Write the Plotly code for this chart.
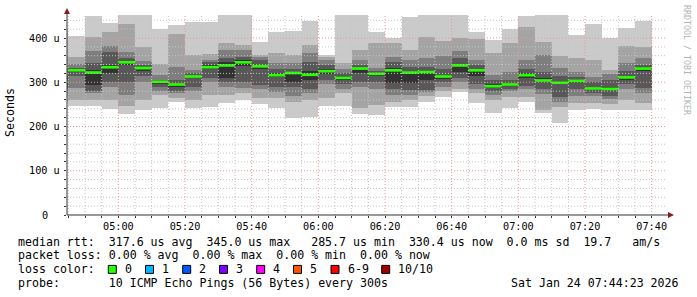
import plotly.graph_objects as go
import pandas as pd

# ---------------- data ----------------
DAY = "2026-01-24"
bar_ends = pd.date_range(f"{DAY} 04:45", f"{DAY} 07:40", freq="5min")  # each bar covers the 5 min before
STEP = pd.Timedelta(minutes=5)

# 10 pings per step, sorted: ping10 = slowest ... ping1 = fastest (microseconds)
ping10 = [420, 405, 450, 434, 455, 455, 420, 429, 436, 436, 455, 455, 391, 414, 416, 438, 362, 455,
          455, 414, 400, 448, 455, 455, 455, 414, 396, 420, 450, 455, 455, 407, 432, 400, 423, 438]
ping9 = [360, 357, 402, 414, 432, 380, 341, 409, 362, 364, 389, 384, 362, 366, 362, 384, 357, 343,
         373, 389, 389, 373, 402, 393, 400, 397, 366, 389, 424, 391, 359, 355, 350, 328, 382, 380]
ping8 = [330, 341, 371, 382, 368, 348, 316, 335, 328, 350, 373, 373, 356, 343, 343, 366, 350, 330,
         350, 332, 357, 350, 355, 359, 370, 350, 316, 323, 350, 362, 332, 323, 312, 318, 343, 355]
ping7 = [315, 332, 343, 368, 355, 340, 306, 305, 320, 345, 355, 358, 350, 330, 330, 345, 340, 322,
         340, 325, 346, 335, 335, 330, 355, 340, 305, 305, 330, 323, 315, 312, 300, 305, 325, 340]
ping6 = [305, 328, 328, 339, 347, 335, 302, 298, 315, 338, 345, 350, 340, 320, 324, 325, 330, 314,
         333, 321, 332, 326, 326, 317, 342, 330, 295, 298, 320, 310, 303, 306, 290, 290, 315, 335]
ping5 = [297, 323, 294, 320, 340, 326, 297, 290, 310, 330, 310, 336, 330, 312, 301, 305, 318, 305,
         320, 315, 298, 298, 305, 308, 323, 315, 287, 292, 310, 300, 295, 298, 282, 282, 306, 325]
ping4 = [290, 314, 280, 301, 301, 315, 289, 280, 289, 310, 300, 300, 294, 290, 290, 285, 305, 295,
         300, 300, 285, 282, 283, 300, 310, 295, 280, 285, 292, 285, 267, 285, 276, 270, 295, 287]
ping3 = [280, 287, 276, 289, 271, 301, 280, 275, 280, 300, 290, 287, 285, 278, 270, 275, 295, 285,
         290, 285, 271, 272, 278, 290, 300, 285, 272, 280, 285, 273, 255, 270, 270, 262, 285, 275]
ping2 = [270, 260, 260, 260, 246, 260, 271, 265, 260, 271, 271, 275, 265, 265, 255, 260, 264, 275,
         242, 249, 255, 260, 268, 280, 285, 275, 260, 267, 267, 237, 244, 253, 254, 252, 260, 253]
ping1 = [255, 246, 246, 240, 228, 237, 242, 255, 242, 244, 253, 260, 250, 242, 219, 222, 246, 246,
         228, 226, 244, 244, 255, 266, 278, 253, 231, 242, 255, 230, 208, 237, 240, 237, 237, 237]
median_rtt = [301, 327, 322, 334, 345, 332, 301, 295, 313, 334, 338, 345, 336, 316, 321, 317, 325, 310,
              331, 319, 327, 322, 323, 313, 338, 327, 291, 295, 316, 304, 299, 303, 286, 285, 311, 331]

y_tick_vals = [0, 100, 200, 300, 400]
y_tick_text = ["0", "100 u", "200 u", "300 u", "400 u"]

loss_labels = ["0", "1", "2", "3", "4", "5", "6-9", "10/10"]
loss_colors = ["#26ff00", "#00b8ff", "#0059ff", "#7e00ff", "#ff00ff", "#ff5500", "#ff0000", "#a00000"]

legend_rtt = "median rtt:  317.6 us avg  345.0 us max   285.7 us min  330.4 us now  0.0 ms sd  19.7   am/s"
legend_loss = "packet loss: 0.00 % avg  0.00 % max  0.00 % min  0.00 % now"
legend_color = "loss color:"
legend_probe = "probe:       10 ICMP Echo Pings (56 Bytes) every 300s"
stamp = "Sat Jan 24 07:44:23 2026"
y_title = "Seconds"
watermark = "RRDTOOL / TOBI OETIKER"

# ---------------- style / layout ----------------
W, H = 697, 297
PL, PR, PT, PB = 67, 667, 15, 215
Y_MAX = 452
X0 = pd.Timestamp(f"{DAY} 04:44:36")
X1 = pd.Timestamp(f"{DAY} 07:44:36")
MONO = "DejaVu Sans Mono"
F_LEG = 11.6
F_AX = 10.2
SMOKE = ["#cacaca", "#a4a4a4", "#7e7e7e", "#585858", "#323232"]


def pxx(x):
    return (x - PL) / (PR - PL)


def pxy(y):
    return (PB - y) / (PB - PT)


def nb(s):
    return s.replace(" ", "\u00a0")


fig = go.Figure()

centers = bar_ends - STEP / 2
width_ms = STEP.total_seconds() * 1000
highs = [ping10, ping9, ping8, ping7, ping6]
lows = [ping1, ping2, ping3, ping4, ping5]
for color, hi, lo in zip(SMOKE, highs, lows):
    fig.add_trace(go.Bar(
        x=centers, y=[h - l for h, l in zip(hi, lo)], base=lo, width=width_ms,
        marker=dict(color=color, line=dict(width=0)), hoverinfo="skip"))

# median line: one horizontal segment per step
mx, my = [], []
for end, m in zip(bar_ends, median_rtt):
    mx += [end - STEP, end, None]
    my += [m, m, None]
fig.add_trace(go.Scatter(x=mx, y=my, mode="lines",
                         line=dict(color=loss_colors[0], width=2.7), hoverinfo="skip"))

shapes = []
# grid drawn above the smoke (as rrdtool does)
for v in range(20, Y_MAX, 20):
    major = v % 100 == 0
    shapes.append(dict(type="line", xref="paper", yref="y", x0=0, x1=1, y0=v, y1=v,
                       line=dict(color="#e69a9a" if major else "#c4c4c4", width=1, dash="1px,2px"),
                       layer="above"))
t = pd.Timestamp(f"{DAY} 04:45")
while t <= X1:
    major = (t.minute % 20 == 0)
    shapes.append(dict(type="line", xref="x", yref="paper", x0=t, x1=t, y0=0, y1=1,
                       line=dict(color="#e69a9a" if major else "#c4c4c4", width=1, dash="1px,2px"),
                       layer="above"))
    t += STEP

AX = "#333333"
ARROW = "#8b1a1a"
shapes += [
    dict(type="line", xref="paper", yref="paper", x0=pxx(PL), x1=pxx(671), y0=0, y1=0,
         line=dict(color=AX, width=1), layer="above"),
    dict(type="line", xref="paper", yref="paper", x0=0, x1=0, y0=0, y1=pxy(10),
         line=dict(color=AX, width=1), layer="above"),
    dict(type="path", xref="paper", yref="paper",
         path=f"M {pxx(668)},{pxy(212)} L {pxx(674)},{pxy(215)} L {pxx(668)},{pxy(218)} Z",
         fillcolor=ARROW, line=dict(width=0), layer="above"),
    dict(type="path", xref="paper", yref="paper",
         path=f"M {pxx(64)},{pxy(14)} L {pxx(67)},{pxy(8)} L {pxx(70)},{pxy(14)} Z",
         fillcolor=ARROW, line=dict(width=0), layer="above"),
]

annotations = []
for v, txt in zip(y_tick_vals, y_tick_text):
    annotations.append(dict(x=pxx(44.5), y=v, xref="paper", yref="y", text=nb(txt), showarrow=False,
                            xanchor="center", yanchor="middle", font=dict(family=MONO, size=F_AX, color="#000")))

annotations.append(dict(x=pxx(10), y=pxy(113), xref="paper", yref="paper", text=y_title, textangle=-90,
                        showarrow=False, xanchor="center", yanchor="middle",
                        font=dict(family=MONO, size=F_LEG, color="#000")))
annotations.append(dict(x=pxx(687), y=pxy(60), xref="paper", yref="paper", text=nb(watermark), textangle=90,
                        showarrow=False, xanchor="center", yanchor="middle",
                        font=dict(family=MONO, size=8.3, color="#b4b4b4")))

line_y = [241.7, 255.2, 269.4, 283.4]
for yy, txt in zip([line_y[0], line_y[1], line_y[3]], [legend_rtt, legend_loss, legend_probe]):
    annotations.append(dict(x=pxx(16), y=pxy(yy), xref="paper", yref="paper", text=nb(txt), showarrow=False,
                            xanchor="left", yanchor="middle", font=dict(family=MONO, size=F_LEG, color="#000")))
annotations.append(dict(x=pxx(16), y=pxy(line_y[2]), xref="paper", yref="paper", text=nb(legend_color),
                        showarrow=False, xanchor="left", yanchor="middle",
                        font=dict(family=MONO, size=F_LEG, color="#000")))
annotations.append(dict(x=pxx(681), y=pxy(line_y[3]), xref="paper", yref="paper", text=nb(stamp),
                        showarrow=False, xanchor="right", yanchor="middle",
                        font=dict(family=MONO, size=F_LEG, color="#000")))

sq_x = [108.3, 145.5, 182.7, 219.5, 256.7, 293.5, 331.0, 381.7]
for sx, lab, col in zip(sq_x, loss_labels, loss_colors):
    shapes.append(dict(type="rect", xref="paper", yref="paper", x0=pxx(sx), x1=pxx(sx + 8),
                       y0=pxy(line_y[2] + 4), y1=pxy(line_y[2] - 4), fillcolor=col,
                       line=dict(color="#000", width=1), layer="above"))
    annotations.append(dict(x=pxx(sx + 14.5), y=pxy(line_y[2]), xref="paper", yref="paper", text=nb(lab),
                            showarrow=False, xanchor="left", yanchor="middle",
                            font=dict(family=MONO, size=F_LEG, color="#000")))

fig.update_layout(
    width=W, height=H, margin=dict(l=PL, r=W - PR, t=PT, b=H - PB, pad=0),
    paper_bgcolor="white", plot_bgcolor="white", showlegend=False,
    barmode="overlay", bargap=0,
    shapes=shapes, annotations=annotations,
    xaxis=dict(type="date", range=[X0, X1], showgrid=False, zeroline=False, showline=False,
               tickmode="linear", tick0=f"{DAY} 05:00", dtick=20 * 60 * 1000, tickformat="%H:%M",
               ticks="outside", ticklen=2, tickcolor=AX,
               tickfont=dict(family=MONO, size=F_AX, color="#000"),
               minor=dict(ticks="outside", ticklen=2, tickcolor=AX, dtick=5 * 60 * 1000,
                          tick0=f"{DAY} 05:00", showgrid=False)),
    yaxis=dict(range=[0, Y_MAX], showgrid=False, zeroline=False, showline=False,
               tickmode="array", tickvals=y_tick_vals, showticklabels=False,
               ticks="outside", ticklen=2, tickcolor=AX,
               minor=dict(ticks="outside", ticklen=2, tickcolor=AX, dtick=20, tick0=0, showgrid=False)),
)

fig.write_html("out.html")
